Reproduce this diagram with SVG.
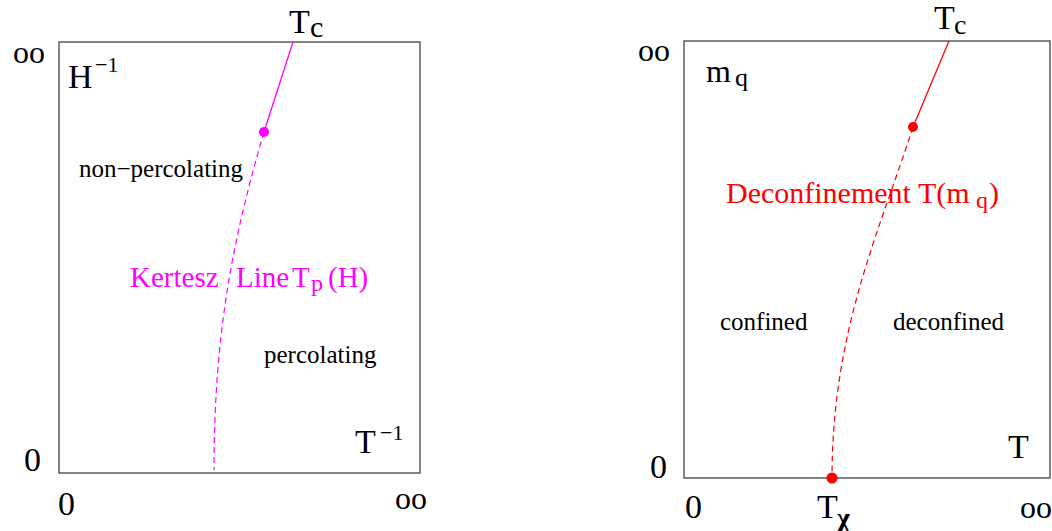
<svg xmlns="http://www.w3.org/2000/svg" width="1052" height="531" viewBox="0 0 1052 531">
<style>
text{font-family:"Liberation Serif","Times New Roman",serif;fill:#000}
.box{fill:#fff;stroke:#444;stroke-width:1.3}
.big{font-size:34px}
.lab{font-size:25px}
.inf{font-size:32px}
.mag{fill:#ff00ff}
.red{fill:#ff0000}
.solidM{fill:none;stroke:#ff00ff;stroke-width:1.3}
.dashM{fill:none;stroke:#ff00ff;stroke-width:1.2;stroke-dasharray:6 4}
.solidR{fill:none;stroke:#ff0000;stroke-width:1.3}
.dashR{fill:none;stroke:#ff0000;stroke-width:1.2;stroke-dasharray:6 4}
</style>
<rect width="1052" height="531" fill="#fff"/>
<g id="left-panel">
<rect class="box" x="59" y="42" width="361" height="431"/>
<text class="inf" x="13" y="63">oo</text>
<text class="big" x="24" y="471">0</text>
<text class="big" x="58" y="515">0</text>
<text class="inf" x="395" y="509">oo</text>
<text class="big" x="289" y="33">T</text><text x="310" y="37" style="font-size:30px">c</text>
<text class="big" x="68" y="88">H</text><text x="95" y="72" style="font-size:22px">−1</text>
<text class="big" x="355" y="453">T</text><text x="380" y="440" style="font-size:22px">−1</text>
<text class="lab" x="79" y="177">non−percolating</text>
<text class="lab" x="264" y="363">percolating</text>
</g>
<g id="left-curve">
<path class="solidM" d="M293,42 L264,132"/>
<path class="dashM" d="M264,132 C234,235 214,330 214,470"/>
<circle cx="264" cy="132" r="5" fill="#ff00ff"/>
<text class="mag" x="130" y="287" style="font-size:29px">Kertesz</text>
<text class="mag" x="236" y="287" style="font-size:29px">Line</text>
<text class="mag" x="292" y="287" style="font-size:29px">T</text>
<text class="mag" x="311" y="291" style="font-size:24px">p</text>
<text class="mag" x="328" y="287" style="font-size:29px">(H)</text>
</g>
<g id="right-panel">
<rect class="box" x="684" y="41" width="366" height="437"/>
<text class="inf" x="638" y="61">oo</text>
<text class="big" x="650" y="478">0</text>
<text class="big" x="685" y="518">0</text>
<text class="inf" x="1020" y="518">oo</text>
<text class="big" x="934" y="29">T</text><text x="954" y="34" style="font-size:28px">c</text>
<text x="706" y="82" style="font-size:32px">m</text><text x="735" y="86" style="font-size:26px">q</text>
<text class="big" x="1008" y="458">T</text>
<text class="lab" x="720" y="330">confined</text>
<text class="lab" x="893" y="330">deconfined</text>
<text class="big" x="817" y="518">T</text><text x="837" y="527" style="font-size:28px;font-weight:bold">χ</text>
</g>
<g id="right-curve">
<path class="solidR" d="M949,41 L913,127"/>
<path class="dashR" d="M913,127 C880,230 832,330 832,478"/>
<circle cx="913" cy="127" r="5" fill="#ff0000"/>
<circle cx="832" cy="478" r="5.5" fill="#ff0000"/>
<text class="red" x="726" y="203" style="font-size:30px">Deconfinement</text>
<text class="red" x="918" y="203" style="font-size:30px">T(m</text>
<text class="red" x="976" y="208" style="font-size:24px">q</text>
<text class="red" x="989" y="203" style="font-size:30px">)</text>
</g>
</svg>
